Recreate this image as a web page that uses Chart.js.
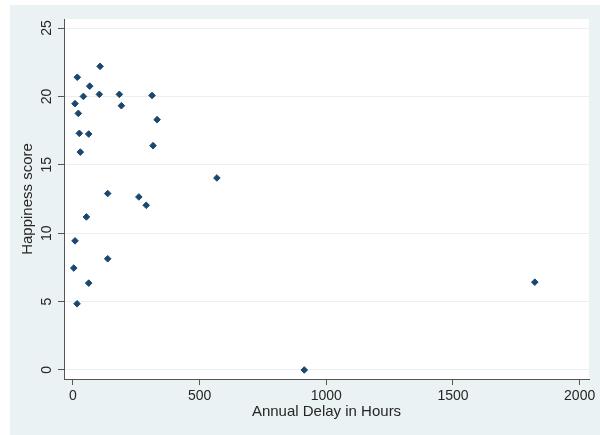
<!DOCTYPE html>
<html>
<head>
<meta charset="utf-8">
<script src="https://cdn.jsdelivr.net/npm/chart.js@4"></script>
<style>
  html, body { margin: 0; padding: 0; background: #ffffff; }
  #wrap { width: 600px; height: 435px; position: relative; }
</style>
</head>
<body>
<div id="wrap"><canvas id="chart" width="600" height="435"></canvas></div>
<script>
// annual delay (hours) vs happiness score
const delayHours = [107, 17, 66, 41, 104, 183, 312, 8, 191, 21, 332, 25, 62, 316, 29,
  137, 260, 289, 53, 8, 137, 3, 62, 16, 568, 1823, 913];
const happiness = [22.2, 21.4, 20.75, 20.0, 20.15, 20.15, 20.07, 19.47, 19.32, 18.76, 18.3, 17.3, 17.25, 16.4, 15.93,
  12.9, 12.65, 12.04, 11.19, 9.44, 8.13, 7.45, 6.35, 4.84, 14.04, 6.42, 0.0];

const xTicks = [0, 500, 1000, 1500, 2000];
const yTicks = [0, 5, 10, 15, 20, 25];

const points = delayHours.map((d, i) => ({ x: d, y: happiness[i] }));

const navy = '#1a476f';
const textCol = '#262626';
const axisCol = '#555555';

// stata-style backdrop: bluish gray page, white plot region
const backdrop = {
  id: 'backdrop',
  beforeDraw(chart) {
    const { ctx, chartArea } = chart;
    ctx.save();
    ctx.fillStyle = '#ffffff';
    ctx.fillRect(0, 0, chart.width, chart.height);
    ctx.fillStyle = '#eaf2f3';
    ctx.fillRect(10, 5, chart.width - 10, chart.height - 5);
    ctx.fillStyle = '#ffffff';
    ctx.fillRect(chartArea.left, chartArea.top, chartArea.right - chartArea.left, chartArea.bottom - chartArea.top);
    ctx.restore();
  }
};

new Chart(document.getElementById('chart'), {
  type: 'scatter',
  data: {
    datasets: [{
      data: points,
      pointStyle: 'rectRot',
      pointRadius: 3.3,
      pointBackgroundColor: navy,
      pointBorderColor: navy,
      pointBorderWidth: 1,
      pointHoverRadius: 3.3
    }]
  },
  options: {
    responsive: false,
    animation: false,
    layout: { padding: { left: 0, top: 19, right: 11, bottom: 0 } },
    plugins: { legend: { display: false }, tooltip: { enabled: false } },
    scales: {
      x: {
        type: 'linear',
        min: -35.5,
        max: 2037,
        afterBuildTicks: s => { s.ticks = xTicks.map(v => ({ value: v })); },
        afterFit: s => { s.height = 56; },
        grid: { color: 'rgba(0,0,0,0)', tickColor: axisCol, tickLength: 6, lineWidth: 1 },
        border: { color: axisCol, width: 1 },
        ticks: {
          color: textCol,
          padding: 3,
          maxRotation: 0,
          font: { family: "'Liberation Sans', Arial, sans-serif", size: 14 },
          callback: v => String(v)
        },
        title: {
          display: true,
          text: 'Annual Delay in Hours',
          color: textCol,
          font: { family: "'Liberation Sans', Arial, sans-serif", size: 15 },
          padding: { top: 0, bottom: 14 }
        }
      },
      y: {
        type: 'linear',
        min: -0.66,
        max: 25.66,
        afterBuildTicks: s => { s.ticks = yTicks.map(v => ({ value: v })); },
        afterFit: s => { s.width = 64; },
        grid: { color: '#eceff0', tickColor: axisCol, tickLength: 6, lineWidth: 1 },
        border: { color: axisCol, width: 1 },
        ticks: {
          color: textCol,
          padding: 3,
          minRotation: 90,
          maxRotation: 90,
          crossAlign: 'center',
          font: { family: "'Liberation Sans', Arial, sans-serif", size: 14 },
          callback: v => String(v)
        },
        title: {
          display: true,
          text: 'Happiness score',
          color: textCol,
          font: { family: "'Liberation Sans', Arial, sans-serif", size: 15 },
          padding: { top: 19, bottom: 0 }
        }
      }
    }
  },
  plugins: [backdrop]
});
</script>
</body>
</html>
